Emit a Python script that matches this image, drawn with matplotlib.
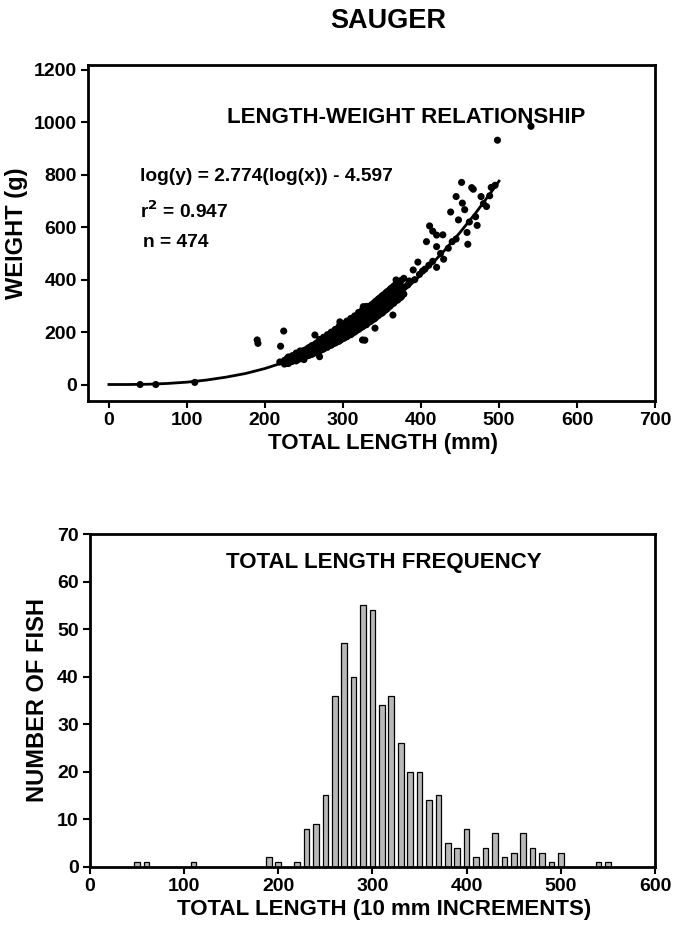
import numpy as np
import matplotlib
matplotlib.use("Agg")
import matplotlib.pyplot as plt

plt.rcParams['font.family'] = ['Liberation Sans', 'DejaVu Sans']
plt.rcParams['font.weight'] = 'bold'

# length-weight scatter (mm, g)
# outliers and sparse points
sparse_len = [40, 60, 110, 190, 191, 224, 220, 219, 264, 270, 328, 341, 326, 364, 325, 296,
              383, 368, 390, 396, 402, 407, 411, 415, 420, 420, 420, 428, 429, 438, 445, 448,
              452, 453, 456, 459, 460, 465, 467, 472, 477, 484, 490, 498, 541,
              385, 392, 398, 405, 410, 415, 425, 435, 440, 445, 462, 470, 480, 488, 495]
sparse_wt = [0, 0, 8, 170, 157, 204, 146, 86, 189, 106, 169, 215, 297, 265, 170, 239,
             380, 399, 437, 467, 433, 545, 605, 585, 570, 526, 447, 571, 478, 658, 717, 628,
             771, 692, 667, 580, 535, 751, 745, 607, 717, 679, 752, 932, 985,
             395, 400, 420, 440, 455, 470, 500, 520, 545, 555, 620, 640, 690, 720, 760]
# dense cloud 225-380 mm
cloud_len = [225, 225, 228, 228, 228, 230, 230, 230, 232, 232, 232, 235, 235, 235, 235,
             237, 237, 237, 240, 240, 240, 240, 242, 242, 242, 245, 245, 245, 245, 247, 247, 247,
             250, 250, 250, 250, 250, 252, 252, 252, 255, 255, 255, 255, 257, 257, 257, 257,
             260, 260, 260, 260, 260, 262, 262, 262, 262, 265, 265, 265, 265, 265,
             267, 267, 267, 267, 270, 270, 270, 270, 270, 270, 272, 272, 272, 272,
             275, 275, 275, 275, 275, 275, 277, 277, 277, 277, 280, 280, 280, 280, 280, 280,
             282, 282, 282, 282, 285, 285, 285, 285, 285, 285, 287, 287, 287, 287,
             290, 290, 290, 290, 290, 290, 292, 292, 292, 292, 295, 295, 295, 295, 295, 295,
             297, 297, 297, 297, 300, 300, 300, 300, 300, 300, 302, 302, 302, 302,
             305, 305, 305, 305, 305, 305, 307, 307, 307, 307, 310, 310, 310, 310, 310, 310,
             312, 312, 312, 312, 315, 315, 315, 315, 315, 315, 317, 317, 317, 317,
             320, 320, 320, 320, 320, 320, 322, 322, 322, 322, 325, 325, 325, 325, 325, 325,
             327, 327, 327, 327, 330, 330, 330, 330, 330, 330, 332, 332, 332, 332,
             335, 335, 335, 335, 335, 337, 337, 337, 337, 340, 340, 340, 340, 340,
             342, 342, 342, 342, 345, 345, 345, 345, 345, 347, 347, 347, 347,
             350, 350, 350, 350, 350, 352, 352, 352, 352, 355, 355, 355, 355,
             357, 357, 357, 357, 360, 360, 360, 360, 362, 362, 362, 365, 365, 365, 365,
             367, 367, 367, 370, 370, 370, 370, 373, 373, 373, 375, 375, 375, 378, 378, 378]
cloud_wt = [78, 92, 82, 98, 88, 80, 95, 105, 86, 100, 92, 88, 104, 96, 110,
            92, 108, 100, 90, 112, 102, 120, 95, 115, 106, 98, 120, 108, 128, 102, 125, 112,
            100, 130, 115, 122, 95, 108, 132, 118, 110, 138, 122, 128, 112, 142, 126, 134,
            115, 148, 130, 138, 122, 118, 150, 135, 142, 122, 155, 140, 148, 130,
            125, 160, 142, 150, 128, 165, 145, 155, 138, 172, 132, 168, 150, 158,
            135, 172, 152, 162, 145, 180, 140, 178, 158, 168, 142, 182, 162, 172, 150, 190,
            148, 188, 168, 178, 150, 192, 172, 182, 160, 200, 155, 198, 175, 188,
            158, 202, 180, 190, 168, 210, 162, 208, 185, 195, 165, 212, 190, 200, 175, 222,
            170, 218, 195, 205, 175, 222, 198, 210, 185, 232, 178, 228, 202, 215,
            182, 232, 208, 220, 195, 242, 188, 238, 212, 225, 190, 242, 218, 230, 202, 252,
            195, 248, 222, 235, 200, 255, 228, 242, 212, 262, 205, 260, 232, 248,
            210, 265, 238, 252, 222, 275, 215, 270, 242, 258, 220, 278, 248, 262, 232, 285,
            225, 282, 252, 268, 228, 288, 258, 272, 240, 298, 235, 292, 262, 278,
            240, 300, 268, 285, 252, 245, 305, 272, 290, 250, 312, 278, 295, 262,
            255, 318, 285, 300, 262, 325, 290, 308, 275, 268, 330, 298, 312,
            272, 338, 302, 320, 285, 278, 342, 308, 325, 285, 350, 315, 332,
            290, 355, 322, 340, 298, 362, 328, 345, 305, 368, 335, 310, 375, 340, 355,
            318, 380, 348, 322, 385, 352, 365, 330, 392, 358, 335, 398, 365, 345, 405, 372]

# fitted line
fit_x = [0, 25, 50, 75, 100, 125, 150, 175, 200, 230, 250, 270, 290, 310, 330, 350, 370,
         390, 410, 430, 450, 470, 490, 500]
fit_y = [0, 0, 1, 4, 9, 17, 28, 42, 61, 90, 113, 141, 171, 206, 245, 289, 337,
         390, 448, 511, 580, 654, 734, 776]

# length frequency, 10 mm bins
bin_mm = [50, 60, 110, 190, 200, 220, 230, 240, 250, 260, 270, 280, 290, 300, 310, 320,
          330, 340, 350, 360, 370, 380, 390, 400, 410, 420, 430, 440, 450, 460, 470, 480,
          490, 500, 540, 550]
n_fish = [1, 1, 1, 2, 1, 1, 8, 9, 15, 36, 47, 40, 55, 54, 34, 36,
          26, 20, 20, 14, 15, 5, 4, 8, 2, 4, 7, 2, 3, 7, 4, 3,
          1, 3, 1, 1]

fig = plt.figure(figsize=(6.76, 9.32), dpi=100)
fig.text(0.574, 0.978, 'SAUGER', ha='center', va='center', fontsize=19.5, fontweight='bold')

# top: length-weight
ax1 = fig.add_axes([0.130, 0.570, 0.839, 0.360])
ax1.plot(fit_x, fit_y, color='black', lw=2, zorder=2)
ax1.scatter(sparse_len + cloud_len, sparse_wt + cloud_wt, s=26, color='black',
            edgecolors='none', zorder=3)
ax1.set_xlim(-27, 700)
ax1.set_ylim(-62, 1218)
ax1.set_xticks(range(0, 701, 100))
ax1.set_yticks(range(0, 1201, 200))
ax1.set_xlabel('TOTAL LENGTH (mm)', fontsize=16, fontweight='bold', labelpad=3, x=0.52)
ax1.set_ylabel('WEIGHT (g)', fontsize=17, fontweight='bold', labelpad=4)
ax1.text(381, 1018, 'LENGTH-WEIGHT RELATIONSHIP', ha='center', va='center', fontsize=16, fontweight='bold')
ax1.text(40, 794, 'log(y) = 2.774(log(x)) - 4.597', ha='left', va='center', fontsize=13.8, fontweight='bold')
ax1.text(40, 660, 'r$^{\\mathbf{2}}$ = 0.947', ha='left', va='center', fontsize=13.8, fontweight='bold')
ax1.text(44, 541, 'n = 474', ha='left', va='center', fontsize=13.8, fontweight='bold')

# bottom: length frequency
ax2 = fig.add_axes([0.133, 0.070, 0.836, 0.357])
ax2.bar(bin_mm, n_fish, width=6, color='#b8b8b8', edgecolor='black', linewidth=0.9, zorder=2)
ax2.set_xlim(0, 600)
ax2.set_ylim(0, 70)
ax2.set_xticks(range(0, 601, 100))
ax2.set_yticks(range(0, 71, 10))
ax2.set_xlabel('TOTAL LENGTH (10 mm INCREMENTS)', fontsize=16, fontweight='bold', labelpad=3, x=0.52)
ax2.set_ylabel('NUMBER OF FISH', fontsize=17, fontweight='bold', labelpad=6)
ax2.text(312, 64, 'TOTAL LENGTH FREQUENCY', ha='center', va='center', fontsize=16, fontweight='bold')

for ax in (ax1, ax2):
    for sp in ax.spines.values():
        sp.set_linewidth(2)
    ax.tick_params(direction='out', length=5, width=1.5, labelsize=14, pad=3)
    for lab in ax.get_xticklabels() + ax.get_yticklabels():
        lab.set_fontweight('bold')

fig.savefig('out.png', dpi=100)
